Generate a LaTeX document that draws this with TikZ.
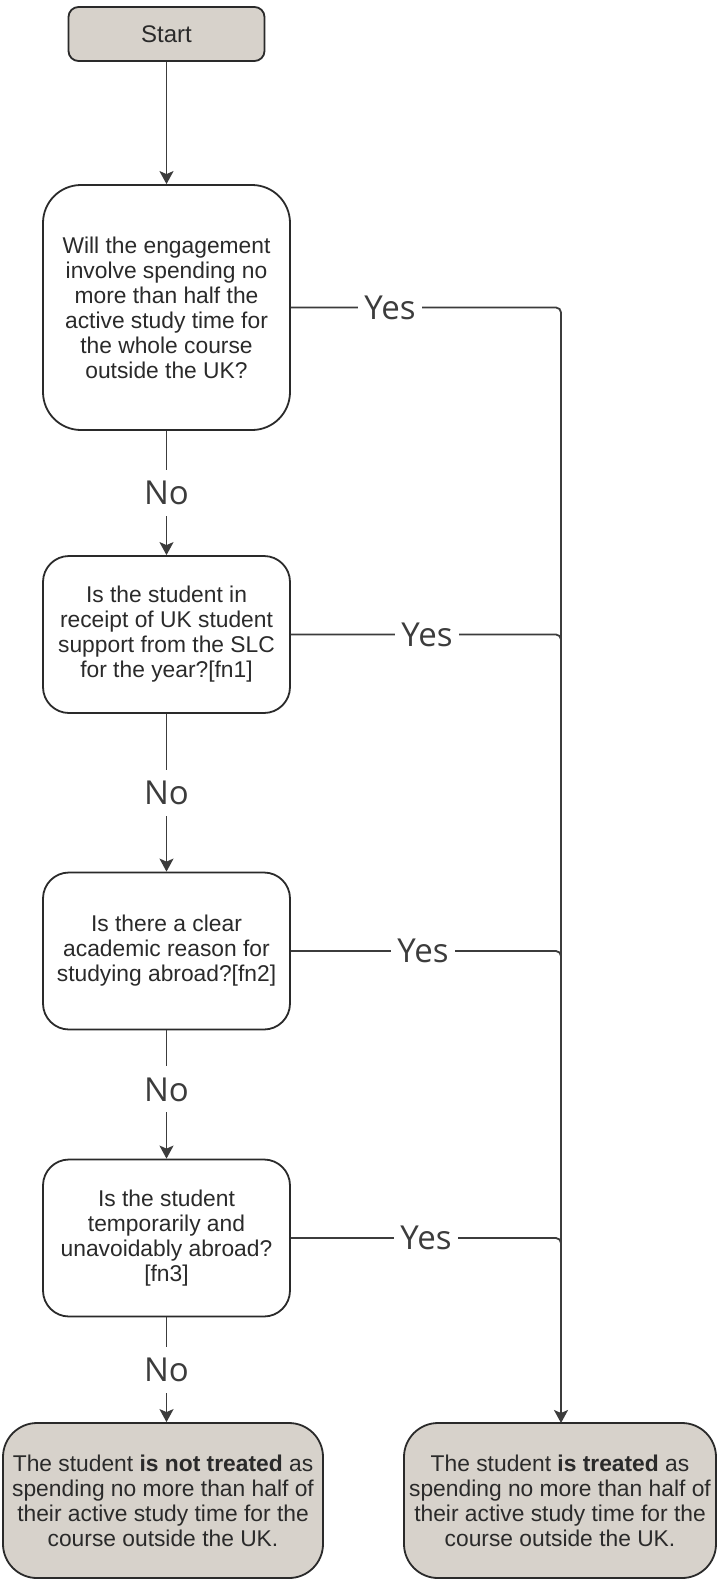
\documentclass[tikz,border=0pt]{standalone}
\usepackage{fontspec}
\setmainfont{Liberation Sans}
\newfontfamily\lblfont{Open Sans}
\usetikzlibrary{arrows.meta}
\definecolor{ink}{HTML}{2A2A2A}
\definecolor{wire}{HTML}{3C3C3C}
\definecolor{termfill}{HTML}{D7D2CB}
\tikzset{
  box/.style={draw=ink, line width=1.8pt, inner sep=0pt, align=center,
    text=ink, font=\fontsize{22.8}{25}\selectfont},
  question/.style={box, fill=white, rounded corners=26pt},
  terminal/.style={box, fill=termfill, rounded corners=34pt},
  wireline/.style={draw=wire, line width=1.8pt},
  conn/.style={wireline, -{Stealth[length=13pt,width=14pt,inset=3pt]}},
  lbl/.style={fill=white, inner xsep=6pt, inner ysep=11pt, text=wire,
    font=\lblfont\fontsize{33}{36}\selectfont}
}
\begin{document}
\begin{tikzpicture}[x=1pt,y=-1pt]
\useasboundingbox[fill=white] (0,0) rectangle (718,1580);

% start terminal
\node[terminal, rounded corners=10pt, minimum width=196pt, minimum height=54pt,
  font=\fontsize{24}{26}\selectfont] (start) at (166.5,34) {Start};

% decision boxes
\node[question, rounded corners=38pt, minimum width=247pt, minimum height=245pt] (q1) at (166.5,307.5)
  {Will the engagement\\involve spending no\\more than half the\\active study time for\\the whole course\\outside the UK?};
\node[question, minimum width=247pt, minimum height=157pt] (q2) at (166.5,634.5)
  {Is the student in\\receipt of UK student\\support from the SLC\\for the year?[fn1]};
\node[question, minimum width=247pt, minimum height=157pt] (q3) at (166.5,951)
  {Is there a clear\\academic reason for\\studying abroad?[fn2]};
\node[question, minimum width=247pt, minimum height=157pt] (q4) at (166.5,1238)
  {Is the student\\temporarily and\\unavoidably abroad?\\{}[fn3]};

% outcomes
\node[terminal, minimum width=320pt, minimum height=155pt] (notreat) at (163,1500.5)
  {The student \textbf{is not treated} as\\spending no more than half of\\their active study time for the\\course outside the UK.};
\node[terminal, minimum width=312pt, minimum height=155pt] (treat) at (560,1500.5)
  {The student \textbf{is treated} as\\spending no more than half of\\their active study time for the\\course outside the UK.};

% "No" chain down the left
\draw[conn] (start.south) -- (start.south |- q1.north);
\draw[conn] (q1.south) -- node[lbl]{No} (q1.south |- q2.north);
\draw[conn] (q2.south) -- node[lbl]{No} (q2.south |- q3.north);
\draw[conn] (q3.south) -- node[lbl, pos=0.46]{No} (q3.south |- q4.north);
\draw[conn] (q4.south) -- node[lbl]{No} (q4.south |- notreat.north);

% "Yes" trunk down the right
\coordinate (t1) at (561,307.5);
\coordinate (t2) at (561,648);
\coordinate (t3) at (561,965);
\coordinate (t4) at (561,1252);
\coordinate (tend) at (561,1423);
\draw[conn, rounded corners=5pt] (q1.east) -- (t1) -- (tend);
\draw[wireline, rounded corners=5pt] (q2.east) -| (t2);
\draw[wireline, rounded corners=5pt] (q3.east) -| (t3);
\draw[wireline, rounded corners=5pt] (q4.east) -| (t4);
\node[lbl] (y1) at (390,307.5) {Yes};
\node[lbl] (y2) at (427,634.5) {Yes};
\node[lbl] (y3) at (423,951) {Yes};
\node[lbl] (y4) at (426,1238) {Yes};
\end{tikzpicture}
\end{document}
